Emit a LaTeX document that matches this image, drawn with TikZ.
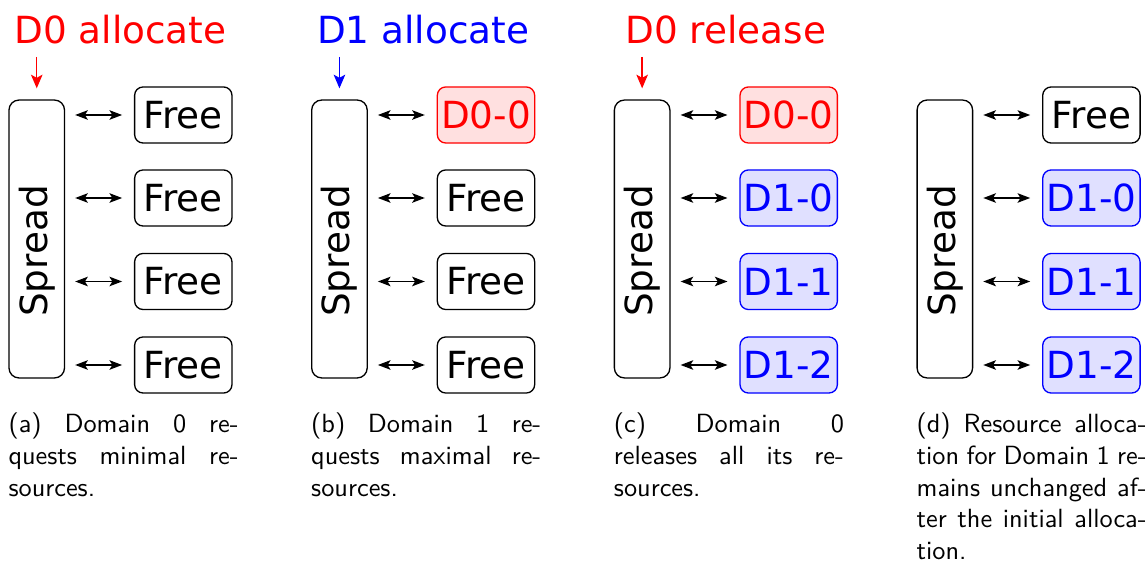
\documentclass[tikz,border=0pt]{standalone}
\usepackage{fontspec}
\newfontfamily\dejavu{DejaVu Sans}
\usetikzlibrary{arrows.meta}

\tikzset{
  diagfont/.style={font=\dejavu\fontsize{14.2}{17}\selectfont},
  spreadbox/.style={draw, rounded corners=3.8pt, line width=0.5pt,
    minimum width=21.1pt, minimum height=105.6pt, inner sep=0pt},
  spreadtext/.style={diagfont, rotate=90, inner sep=0pt},
  slot/.style={draw, rounded corners=3.2pt, line width=0.5pt,
    minimum width=37pt, minimum height=21.3pt, inner sep=0pt, diagfont},
  freeslot/.style={slot, draw=black},
  dzero/.style={slot, draw=red, fill=red!12, text=red},
  done/.style={slot, draw=blue, fill=blue!12, text=blue},
  link/.style={{Stealth[length=4.8pt,width=3.6pt,inset=1.1pt]}-{Stealth[length=4.8pt,width=3.6pt,inset=1.1pt]},
    line width=0.65pt, shorten <=3.8pt, shorten >=4.5pt},
  request/.style={-{Stealth[length=5.2pt,width=4.4pt,inset=1.2pt]}, line width=0.5pt, shorten >=4.2pt},
  title/.style={diagfont, anchor=base, inner sep=0pt},
  caption/.style={anchor=base west, inner sep=0pt, font=\sffamily\fontsize{10}{12}\selectfont},
}

\newcommand{\capbox}[1]{\parbox[t]{87.4pt}{#1}}

\begin{document}
\begin{tikzpicture}[x=0.38pt, y=-0.38pt]
\useasboundingbox (0,0) rectangle (1146,563);

% ---- (a) Domain 0 allocates ----
\begin{scope}[shift={(0,0)}]
  \node[title, text=red] (ta) at (120.5,44) {D0 allocate};
  \node[spreadbox] (sa) at (36.75,239) {};
  \node[spreadtext] (sa-label) at (36.75,251) {Spread};
  \node[freeslot] (a1) at (183.3,115) {Free};
  \node[freeslot] (a2) at (183.3,198) {Free};
  \node[freeslot] (a3) at (183.3,281.5) {Free};
  \node[freeslot] (a4) at (183.3,365) {Free};
  \coordinate (qa) at (36.75,57);
  \draw[request, red] (qa) -- (sa.north);
  \foreach \i in {1,...,4} \draw[link] (sa.east |- a\i.west) -- (a\i.west);
  \node[caption] (ca) at (8,433) {\capbox{(a) Domain 0 re-\linebreak quests minimal re-\linebreak sources.}};
\end{scope}

% ---- (b) Domain 1 allocates ----
\begin{scope}[shift={(302.7,0)}]
  \node[title, text=blue] (tb) at (120.5,44) {D1 allocate};
  \node[spreadbox] (sb) at (36.75,239) {};
  \node[spreadtext] (sb-label) at (36.75,251) {Spread};
  \node[dzero] (b1) at (183.3,115) {D0-0};
  \node[freeslot] (b2) at (183.3,198) {Free};
  \node[freeslot] (b3) at (183.3,281.5) {Free};
  \node[freeslot] (b4) at (183.3,365) {Free};
  \coordinate (qb) at (36.75,57);
  \draw[request, blue] (qb) -- (sb.north);
  \foreach \i in {1,...,4} \draw[link] (sb.east |- b\i.west) -- (b\i.west);
  \node[caption] (cb) at (8,433) {\capbox{(b) Domain 1 re-\linebreak quests maximal re-\linebreak sources.}};
\end{scope}

% ---- (c) Domain 0 releases ----
\begin{scope}[shift={(605.4,0)}]
  \node[title, text=red] (tc) at (120.5,44) {D0 release};
  \node[spreadbox] (sc) at (36.75,239) {};
  \node[spreadtext] (sc-label) at (36.75,251) {Spread};
  \node[dzero] (c1) at (183.3,115) {D0-0};
  \node[done] (c2) at (183.3,198) {D1-0};
  \node[done] (c3) at (183.3,281.5) {D1-1};
  \node[done] (c4) at (183.3,365) {D1-2};
  \coordinate (qc) at (36.75,57);
  \draw[request, red] (qc) -- (sc.north);
  \foreach \i in {1,...,4} \draw[link] (sc.east |- c\i.west) -- (c\i.west);
  \node[caption] (cc) at (8,433) {\capbox{(c) Domain 0\linebreak releases all its re-\linebreak sources.}};
\end{scope}

% ---- (d) final state ----
\begin{scope}[shift={(908.1,0)}]
  \node[spreadbox] (sd) at (36.75,239) {};
  \node[spreadtext] (sd-label) at (36.75,251) {Spread};
  \node[freeslot] (d1) at (183.3,115) {Free};
  \node[done] (d2) at (183.3,198) {D1-0};
  \node[done] (d3) at (183.3,281.5) {D1-1};
  \node[done] (d4) at (183.3,365) {D1-2};
  \foreach \i in {1,...,4} \draw[link] (sd.east |- d\i.west) -- (d\i.west);
  \node[caption] (cd) at (8,433) {\capbox{(d) Resource alloca-\linebreak tion for Domain 1 re-\linebreak mains unchanged af-\linebreak ter the initial alloca-\linebreak tion.}};
\end{scope}
\end{tikzpicture}
\end{document}
